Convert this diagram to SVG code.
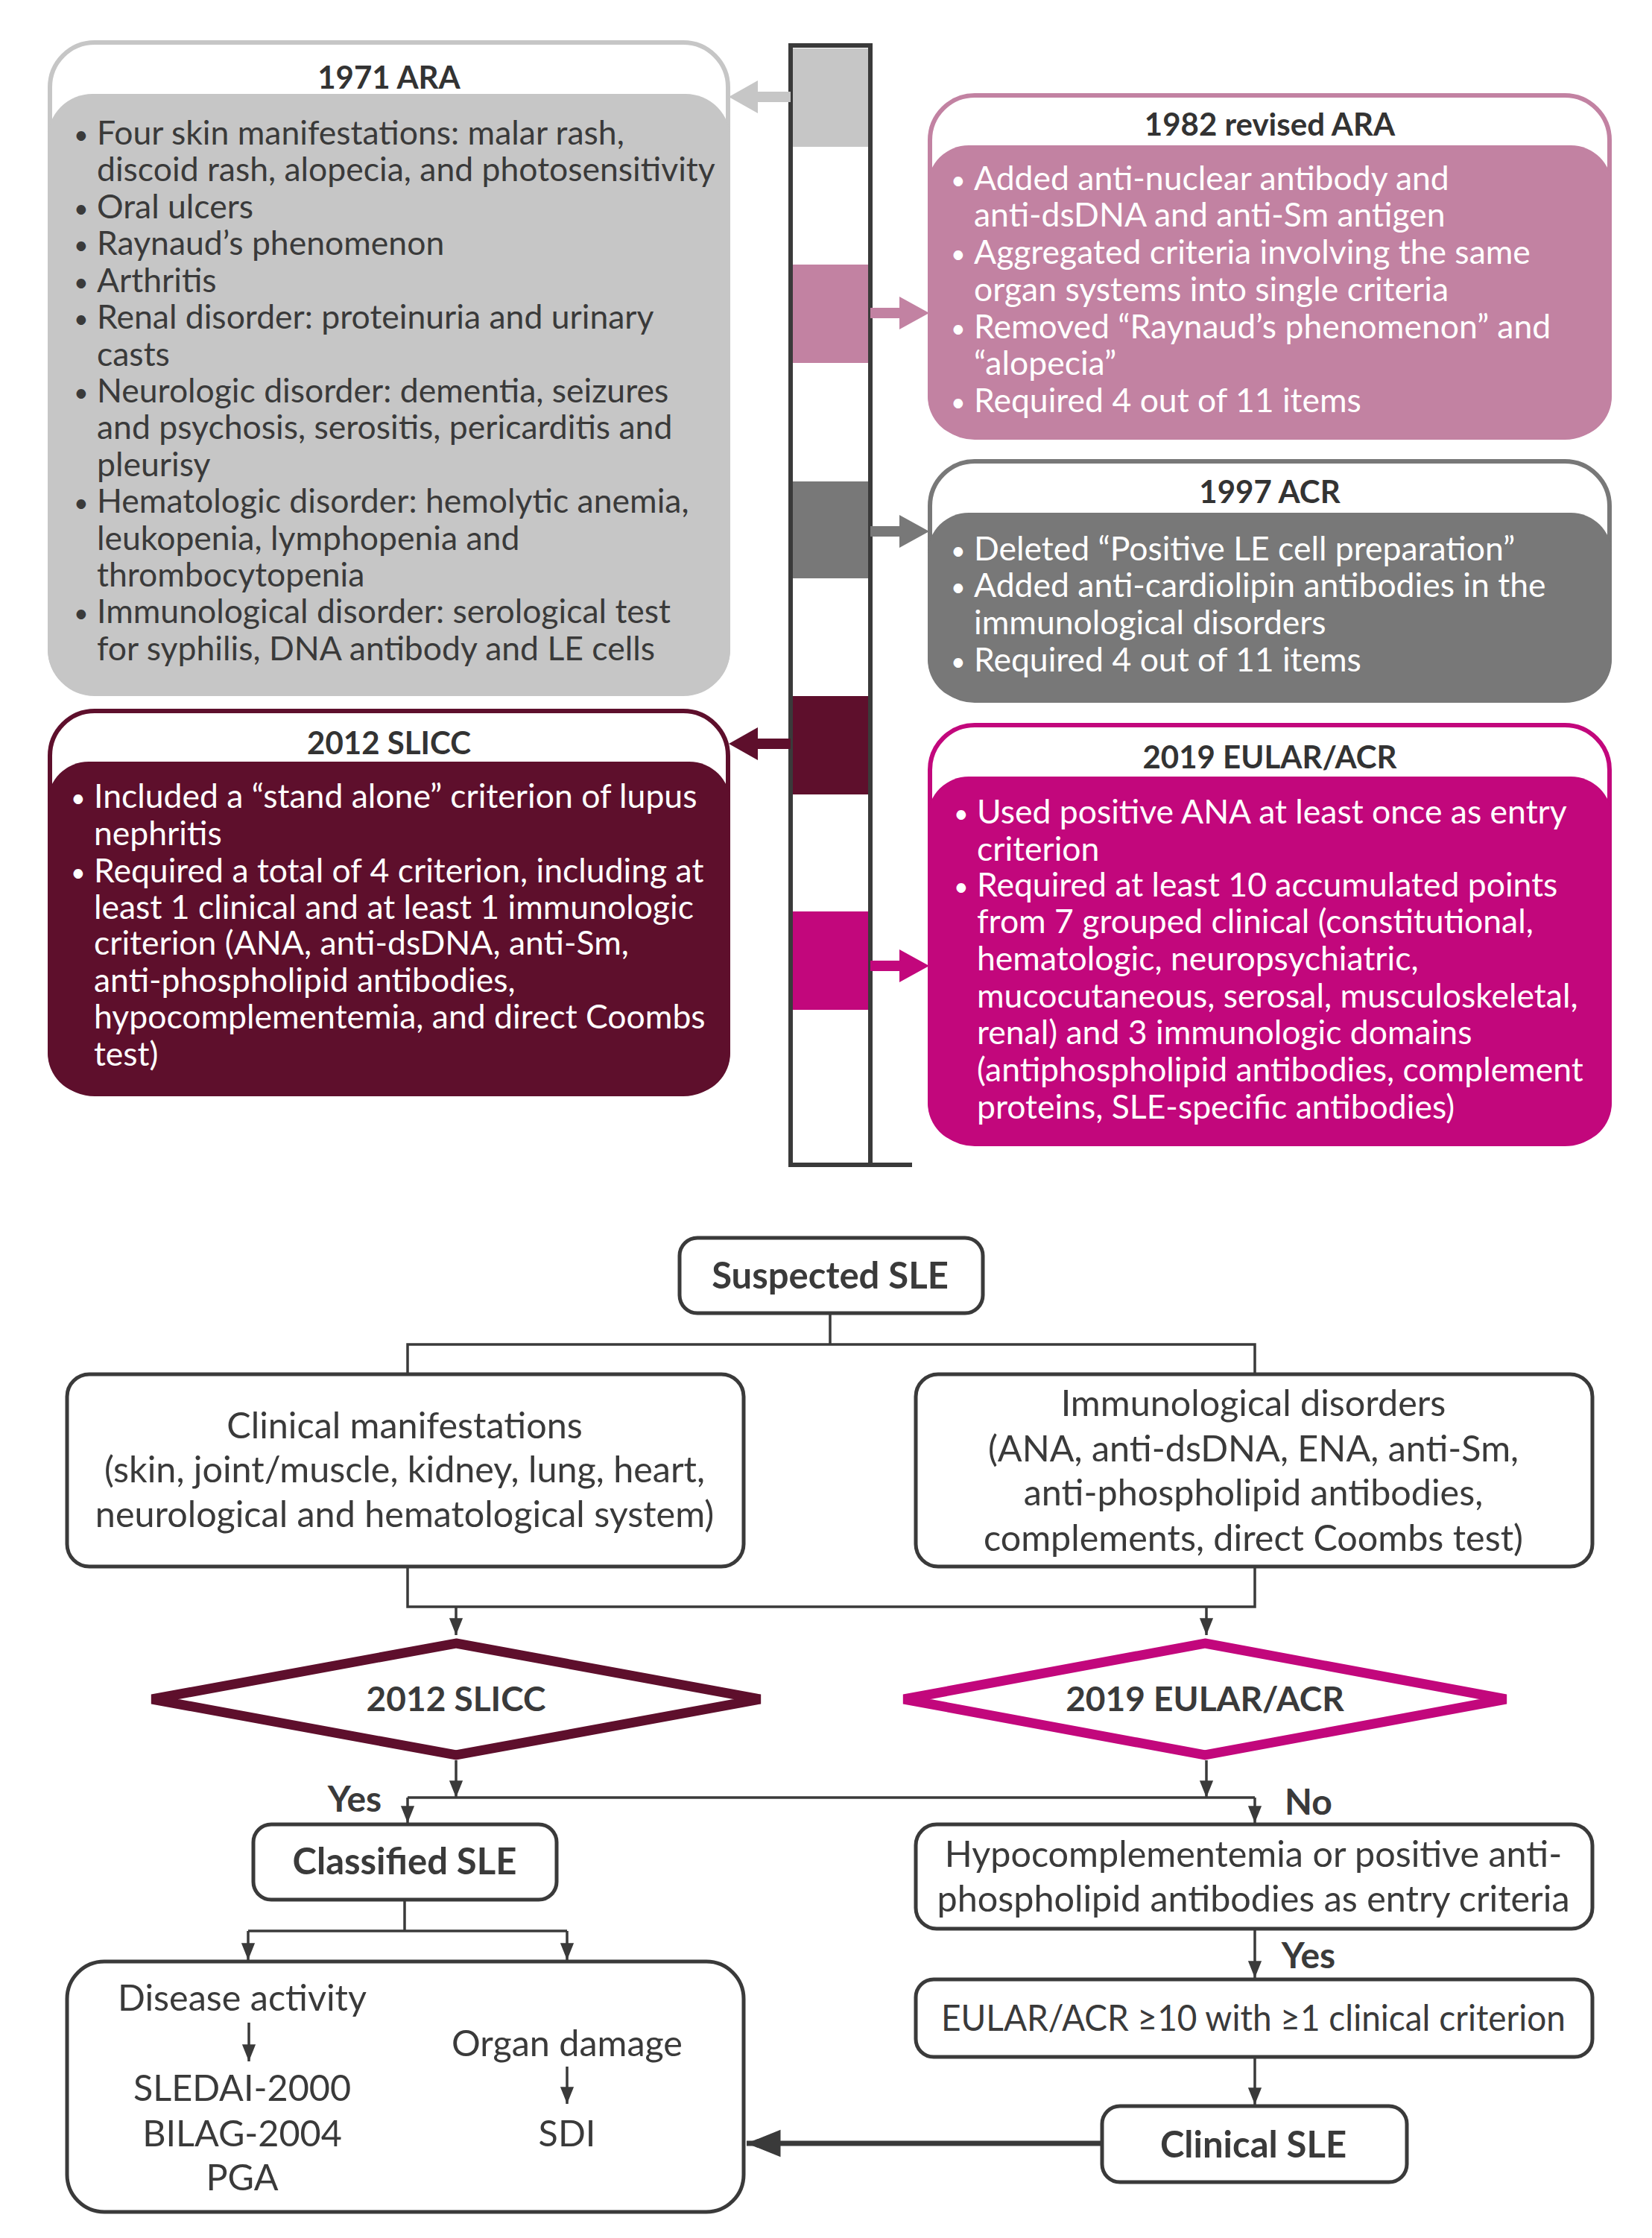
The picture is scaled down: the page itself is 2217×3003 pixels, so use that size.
<svg xmlns="http://www.w3.org/2000/svg" width="2217" height="3003" viewBox="0 0 2217 3003">
<defs>
<style>
text{font-family:Lato,"Open Sans","Liberation Sans",sans-serif}
.t{font-size:44.5px}
.b{font-size:34px}
.d{fill:#3a3a3a}
.w{fill:#ffffff}
.h{font-size:42px;font-weight:700;fill:#333333;text-anchor:middle}
.f{font-size:48.5px;fill:#3a3a3a;text-anchor:middle}
.fb{font-size:49px;font-weight:700;fill:#3a3a3a;text-anchor:middle}
.fd{font-size:46px;font-weight:700;fill:#3a3a3a;text-anchor:middle}
.box{fill:#ffffff;stroke:#3a3a3a;stroke-width:5}
.c{fill:none;stroke:#3a3a3a;stroke-width:3.5}
.ca{fill:none;stroke:#3a3a3a;stroke-width:3.5;marker-end:url(#ah)}
</style>
<marker id="ah" viewBox="0 0 10 10" refX="10" refY="5" markerWidth="6.5" markerHeight="6.5" markerUnits="strokeWidth" orient="auto">
<path d="M0,1 L10,5 L0,9 z" fill="#3a3a3a"/>
</marker>
</defs>

<g id="timeline">
<rect x="1064" y="64" width="101" height="1497" fill="#ffffff"/>
<rect x="1064" y="65" width="101" height="132" fill="#c6c6c6"/>
<rect x="1064" y="355" width="101" height="132" fill="#c282a2"/>
<rect x="1064" y="646" width="101" height="130" fill="#787878"/>
<rect x="1064" y="934" width="101" height="132" fill="#5e0f2c"/>
<rect x="1064" y="1223" width="101" height="132" fill="#c2077c"/>
<path d="M1061,1563 V61 H1168 V1563" fill="none" stroke="#3a3a3a" stroke-width="6"/>
<line x1="1058" y1="1563" x2="1224" y2="1563" stroke="#3a3a3a" stroke-width="6"/>
</g>

<g id="timeline-arrows">
<path d="M1061,123 H1017 V108 L978,130 L1017,152 V137 H1061 z" fill="#c6c6c6"/>
<path d="M1168,413 H1207 V398 L1247,420 L1207,442 V427 H1168 z" fill="#c282a2"/>
<path d="M1168,706 H1207 V691 L1247,713 L1207,735 V720 H1168 z" fill="#787878"/>
<path d="M1061,991 H1017 V976 L978,998 L1017,1020 V1005 H1061 z" fill="#5e0f2c"/>
<path d="M1168,1289 H1207 V1274 L1247,1296 L1207,1318 V1303 H1168 z" fill="#c2077c"/>
</g>

<g id="ara1971">
<rect x="67" y="57" width="910" height="874" rx="60" fill="#ffffff" stroke="#c6c6c6" stroke-width="6"/>
<rect x="64" y="126" width="916" height="805" rx="60" fill="#c6c6c6"/>
<text class="h" x="522" y="119">1971 ARA</text>
<g class="d">
<g class="b"><text x="99" y="193">•</text><text x="99" y="292">•</text><text x="99" y="341">•</text><text x="99" y="391">•</text><text x="99" y="440">•</text><text x="99" y="539">•</text><text x="99" y="687">•</text><text x="99" y="835">•</text></g>
<g class="t">
<text x="130" y="194">Four skin manifestations: malar rash,</text>
<text x="130" y="243">discoid rash, alopecia, and photosensitivity</text>
<text x="130" y="293">Oral ulcers</text>
<text x="130" y="342">Raynaud’s phenomenon</text>
<text x="130" y="392">Arthritis</text>
<text x="130" y="441">Renal disorder: proteinuria and urinary</text>
<text x="130" y="491">casts</text>
<text x="130" y="540">Neurologic disorder: dementia, seizures</text>
<text x="130" y="589">and psychosis, serositis, pericarditis and</text>
<text x="130" y="639">pleurisy</text>
<text x="130" y="688">Hematologic disorder: hemolytic anemia,</text>
<text x="130" y="738">leukopenia, lymphopenia and</text>
<text x="130" y="787">thrombocytopenia</text>
<text x="130" y="836">Immunological disorder: serological test</text>
<text x="130" y="886">for syphilis, DNA antibody and LE cells</text>
</g>
</g>
</g>

<g id="ara1982">
<rect x="1248" y="128" width="912" height="459" rx="60" fill="#ffffff" stroke="#c282a2" stroke-width="6"/>
<rect x="1245" y="195" width="918" height="392" rx="55" fill="#c282a2"/>
<text class="h" x="1704" y="182">1982 revised ARA</text>
<g class="w">
<g class="b"><text x="1276" y="254">•</text><text x="1276" y="353">•</text><text x="1276" y="453">•</text><text x="1276" y="552">•</text></g>
<g class="t">
<text x="1307" y="255">Added anti-nuclear antibody and</text>
<text x="1307" y="304">anti-dsDNA and anti-Sm antigen</text>
<text x="1307" y="354">Aggregated criteria involving the same</text>
<text x="1307" y="404">organ systems into single criteria</text>
<text x="1307" y="454">Removed “Raynaud’s phenomenon” and</text>
<text x="1307" y="503">“alopecia”</text>
<text x="1307" y="553">Required 4 out of 11 items</text>
</g>
</g>
</g>

<g id="acr1997">
<rect x="1248" y="619" width="912" height="321" rx="60" fill="#ffffff" stroke="#787878" stroke-width="6"/>
<rect x="1245" y="688" width="918" height="252" rx="55" fill="#787878"/>
<text class="h" x="1704" y="675">1997 ACR</text>
<g class="w">
<g class="b"><text x="1276" y="751">•</text><text x="1276" y="800">•</text><text x="1276" y="900">•</text></g>
<g class="t">
<text x="1307" y="752">Deleted “Positive LE cell preparation”</text>
<text x="1307" y="801">Added anti-cardiolipin antibodies in the</text>
<text x="1307" y="851">immunological disorders</text>
<text x="1307" y="901">Required 4 out of 11 items</text>
</g>
</g>
</g>

<g id="slicc2012">
<rect x="67" y="954" width="910" height="514" rx="60" fill="#ffffff" stroke="#5e0f2c" stroke-width="6"/>
<rect x="64" y="1022" width="916" height="446" rx="55" fill="#5e0f2c"/>
<text class="h" x="522" y="1012">2012 SLICC</text>
<g class="w">
<g class="b"><text x="95" y="1083">•</text><text x="95" y="1183">•</text></g>
<g class="t">
<text x="126" y="1084">Included a “stand alone” criterion of lupus</text>
<text x="126" y="1134">nephritis</text>
<text x="126" y="1184">Required a total of 4 criterion, including at</text>
<text x="126" y="1233">least 1 clinical and at least 1 immunologic</text>
<text x="126" y="1281">criterion (ANA, anti-dsDNA, anti-Sm,</text>
<text x="126" y="1331">anti-phospholipid antibodies,</text>
<text x="126" y="1380">hypocomplementemia, and direct Coombs</text>
<text x="126" y="1430">test)</text>
</g>
</g>
</g>

<g id="eular2019">
<rect x="1248" y="973" width="912" height="562" rx="60" fill="#ffffff" stroke="#c2077c" stroke-width="6"/>
<rect x="1245" y="1042" width="918" height="493" rx="55" fill="#c2077c"/>
<text class="h" x="1704" y="1031">2019 EULAR/ACR</text>
<g class="w">
<g class="b"><text x="1280" y="1104">•</text><text x="1280" y="1202">•</text></g>
<g class="t">
<text x="1311" y="1105">Used positive ANA at least once as entry</text>
<text x="1311" y="1155">criterion</text>
<text x="1311" y="1203">Required at least 10 accumulated points</text>
<text x="1311" y="1252">from 7 grouped clinical (constitutional,</text>
<text x="1311" y="1302">hematologic, neuropsychiatric,</text>
<text x="1311" y="1352">mucocutaneous, serosal, musculoskeletal,</text>
<text x="1311" y="1401">renal) and 3 immunologic domains</text>
<text x="1311" y="1451">(antiphospholipid antibodies, complement</text>
<text x="1311" y="1501">proteins, SLE-specific antibodies)</text>
</g>
</g>
</g>

<g id="suspected">
<rect class="box" x="912" y="1661" width="407" height="101" rx="24"/>
<text class="fb" x="1114" y="1729">Suspected SLE</text>
</g>

<g id="clinical-manifestations">
<rect class="box" x="90" y="1844" width="908" height="258" rx="30"/>
<text class="f" x="543" y="1930">Clinical manifestations</text>
<text class="f" x="543" y="1989">(skin, joint/muscle, kidney, lung, heart,</text>
<text class="f" x="543" y="2049">neurological and hematological system)</text>
</g>

<g id="immunological">
<rect class="box" x="1229" y="1844" width="908" height="258" rx="30"/>
<text class="f" x="1682" y="1900">Immunological disorders</text>
<text class="f" x="1682" y="1961">(ANA, anti-dsDNA, ENA, anti-Sm,</text>
<text class="f" x="1682" y="2020">anti-phospholipid antibodies,</text>
<text class="f" x="1682" y="2081">complements, direct Coombs test)</text>
</g>

<g id="slicc-diamond">
<polygon points="612,2205 1020,2280 612,2355 204,2280" fill="#ffffff" stroke="#5e0f2c" stroke-width="13"/>
<text class="fd" x="612" y="2296">2012 SLICC</text>
</g>

<g id="eular-diamond">
<polygon points="1617,2205 2021,2280 1617,2355 1213,2280" fill="#ffffff" stroke="#c2077c" stroke-width="13"/>
<text class="fd" x="1617" y="2296">2019 EULAR/ACR</text>
</g>

<g id="labels">
<text class="fd" x="476" y="2431" style="font-size:48px">Yes</text>
<text class="fd" x="1756" y="2435" style="font-size:48px">No</text>
<text class="fd" x="1756" y="2641" style="font-size:48px">Yes</text>
</g>

<g id="classified">
<rect class="box" x="340" y="2448" width="407" height="101" rx="24"/>
<text class="fb" x="543" y="2515">Classified SLE</text>
</g>

<g id="hypocomp">
<rect class="box" x="1229" y="2448" width="908" height="140" rx="28"/>
<text class="f" x="1682" y="2505">Hypocomplementemia or positive anti-</text>
<text class="f" x="1682" y="2565">phospholipid antibodies as entry criteria</text>
</g>

<g id="eular-threshold">
<rect class="box" x="1229" y="2656" width="908" height="104" rx="24"/>
<text class="f" x="1682" y="2725" textLength="838" lengthAdjust="spacingAndGlyphs">EULAR/ACR ≥10 with ≥1 clinical criterion</text>
</g>

<g id="clinical-sle">
<rect class="box" x="1479" y="2826" width="409" height="102" rx="24"/>
<text class="fb" x="1682" y="2895">Clinical SLE</text>
</g>

<g id="activity-damage">
<rect class="box" x="90" y="2632" width="908" height="336" rx="50"/>
<text class="f" x="325" y="2698">Disease activity</text>
<text class="f" x="325" y="2819">SLEDAI-2000</text>
<text class="f" x="325" y="2880">BILAG-2004</text>
<text class="f" x="325" y="2939">PGA</text>
<text class="f" x="761" y="2759">Organ damage</text>
<text class="f" x="761" y="2880">SDI</text>
</g>

<g id="connectors">
<path class="c" d="M1114,1762 V1804"/>
<path class="c" d="M547,1844 V1804 H1684 V1844"/>
<path class="c" d="M547,2102 V2156 H1684 V2102"/>
<path class="ca" d="M612,2156 V2194"/>
<path class="ca" d="M1619,2156 V2194"/>
<path class="ca" d="M612,2362 V2412"/>
<path class="ca" d="M1619,2362 V2412"/>
<path class="c" d="M547,2412 H1684"/>
<path class="ca" d="M547,2412 V2446"/>
<path class="ca" d="M1684,2412 V2446"/>
<path class="c" d="M543,2549 V2591"/>
<path class="c" d="M333,2591 H761"/>
<path class="ca" d="M333,2591 V2630"/>
<path class="ca" d="M761,2591 V2630"/>
<path class="ca" d="M1684,2588 V2654"/>
<path class="ca" d="M1684,2760 V2824"/>
<path class="ca" d="M334,2714 V2766"/>
<path class="ca" d="M761,2773 V2823"/>
<path d="M1479,2876 H1002" fill="none" stroke="#3a3a3a" stroke-width="7" marker-end="url(#ah)"/>
</g>
</svg>
